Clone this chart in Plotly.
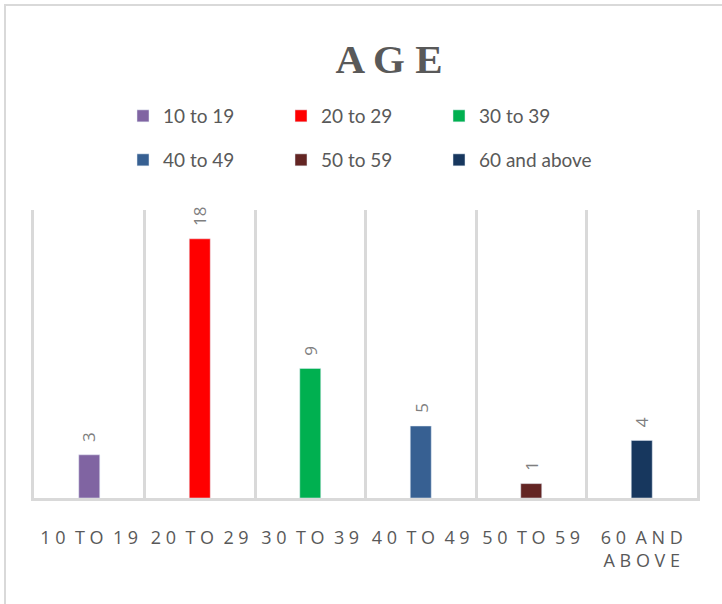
import plotly.graph_objects as go

categories = ["10 to 19", "20 to 29", "30 to 39", "40 to 49", "50 to 59", "60 and above"]
values = [3, 18, 9, 5, 1, 4]
colors = ["#8064A2", "#FF0000", "#00B050", "#376092", "#632523", "#17375E"]
tick_labels = ["1 0  T O  1 9", "2 0  T O  2 9", "3 0  T O  3 9",
               "4 0  T O  4 9", "5 0  T O  5 9", "6 0  A N D<br>A B O V E"]

W, H = 722, 604
L, R, T, B = 34, 25, 210, 106
pw, ph = W - L - R, H - T - B

fig = go.Figure()
for i, (c, v, col) in enumerate(zip(categories, values, colors)):
    fig.add_trace(go.Bar(
        x=[c], y=[v], name=c, marker_color=col, width=0.19,
        legend="legend" if i < 3 else "legend2",
        showlegend=True,
    ))
    fig.add_annotation(
        x=c, y=v, text=str(v), textangle=-90, showarrow=False,
        yanchor="bottom", yshift=11,
        font=dict(family="Open Sans", size=17, color="#7f7f7f"),
    )

gray = "#d9d9d9"
fig.add_shape(type="rect", xref="paper", yref="paper",
              x0=(5 - L) / pw, x1=(W + 10 - L) / pw,
              y0=-(H + 10 - (T + ph)) / ph, y1=1 + (T - 5) / ph,
              line=dict(color=gray, width=2), layer="below")

legend_common = dict(
    orientation="h", xref="container", yref="container",
    xanchor="left", yanchor="middle",
    font=dict(family="Lato", size=19, color="#595959"),
    entrywidth=113, entrywidthmode="pixels",
    bgcolor="rgba(0,0,0,0)", itemclick=False,
)

fig.update_layout(
    width=W, height=H,
    margin=dict(l=L, r=R, t=T, b=B),
    paper_bgcolor="white", plot_bgcolor="white",
    barmode="overlay",
    title=dict(text="<b>A G E</b>", x=389 / W, xanchor="center",
               y=1 - 59 / H, yanchor="middle", yref="container",
               font=dict(family="Liberation Serif", size=41, color="#595959")),
    legend=dict(x=123 / W, y=1 - 116 / H, **legend_common),
    legend2=dict(x=123 / W, y=1 - 160 / H, **legend_common),
    xaxis=dict(
        type="category", categoryorder="array", categoryarray=categories,
        tickmode="array", tickvals=categories, ticktext=tick_labels,
        tickangle=0, tickson="boundaries", ticks="",
        ticklabelstandoff=21,
        showgrid=True, gridcolor=gray, gridwidth=3,
        showline=True, linecolor=gray, linewidth=3,
        tickfont=dict(family="Open Sans", size=18, color="#595959"),
        fixedrange=True,
    ),
    yaxis=dict(range=[0, 20], showticklabels=False, ticks="",
               showgrid=False, zeroline=False,
               showline=True, linecolor=gray, linewidth=3, mirror=True),
    showlegend=True,
)

fig.write_html("out.html")
